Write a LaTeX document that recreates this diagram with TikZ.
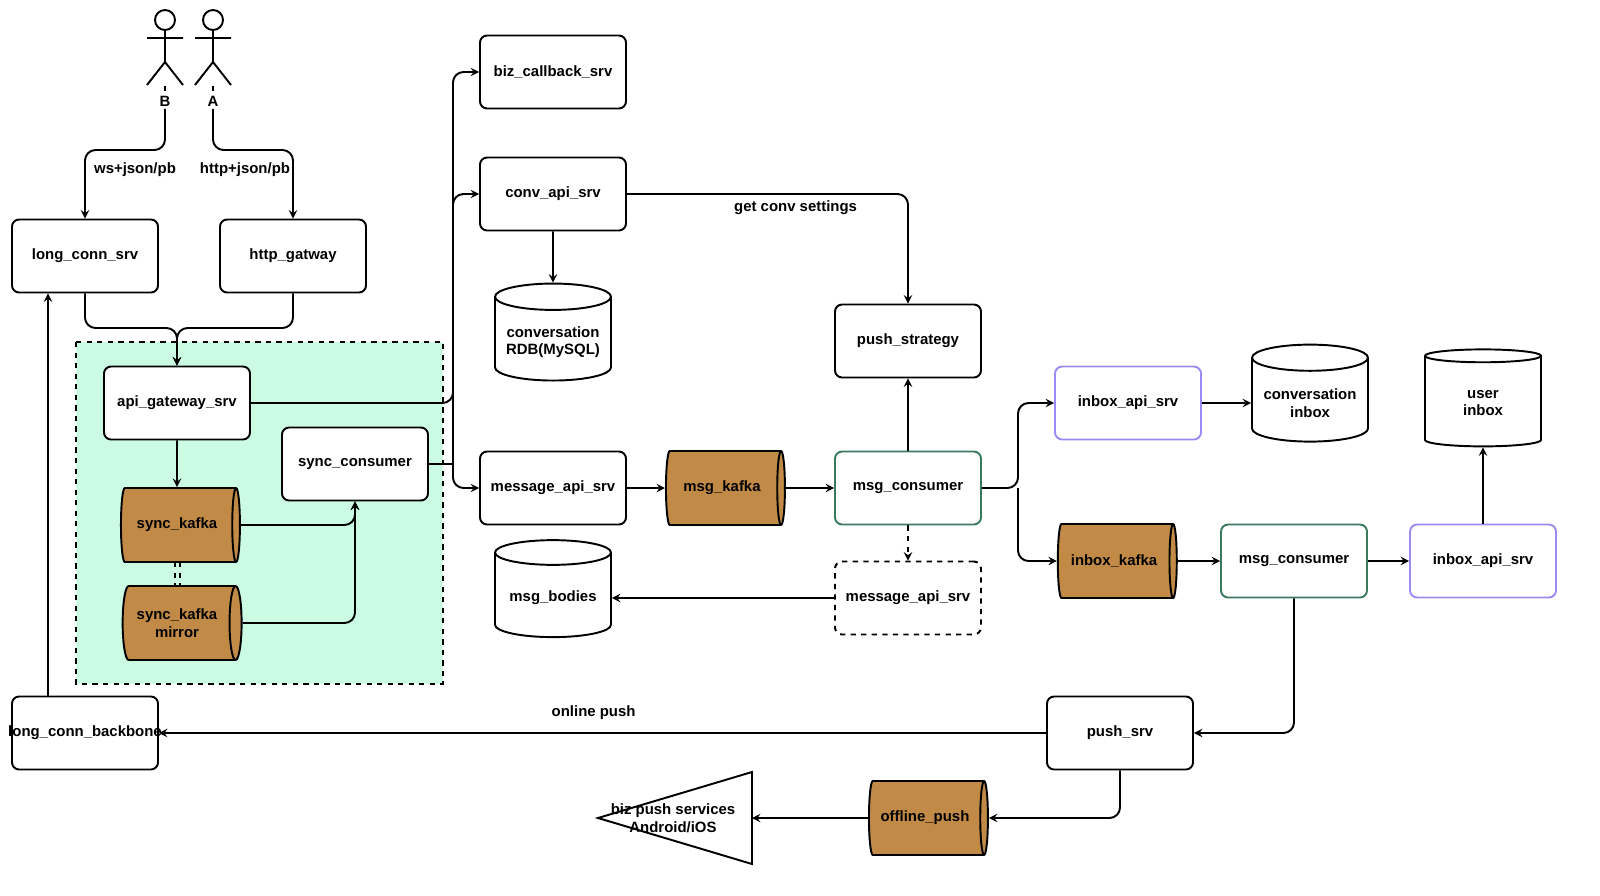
\documentclass[tikz,border=0pt]{standalone}
\usepackage{fontspec}
\setmainfont{Liberation Sans}
\usetikzlibrary{shapes}
\usetikzlibrary{arrows}
\definecolor{kafkabrown}{HTML}{C18A46}
\definecolor{mint}{HTML}{CCFBE4}
\definecolor{consgreen}{HTML}{3C7A5E}
\definecolor{inboxpurple}{HTML}{9A8CF2}
\begin{document}
\begin{tikzpicture}[x=0.02cm,y=-0.02cm,line width=1.1pt,>=stealth,
	font=\bfseries\fontsize{8.5}{10}\selectfont,
	box/.style={draw,rounded corners=4pt,minimum width=2.92cm,minimum height=1.46cm,fill=white,align=center},
	db/.style={draw,cylinder,shape border rotate=90,aspect=0.25,minimum width=2.32cm,minimum height=1.94cm,fill=white,align=center},
	kafka/.style={draw,cylinder,aspect=0.3,minimum width=1.48cm,minimum height=2.38cm,fill=kafkabrown,align=center},
	link/.style={->,rounded corners=6pt}
	]
	\useasboundingbox (0,0) rectangle (1600,896);
	% group
	\fill[mint] (76,342) rectangle (443,684);
	\draw[dashed,line width=0.6pt] (76,342) rectangle (443,684);
	% actors
	\foreach \ax/\an in {165/B,213/A}{
		\draw (\ax,20) circle (10);
		\draw (\ax,30) -- (\ax,62) (\ax-18,38) -- (\ax+18,38)
			(\ax-18,85) -- (\ax,62) -- (\ax+18,85);
		\draw[dashed,line width=0.8pt] (\ax,86) -- (\ax,94);
		\node[inner sep=1pt] (\an) at (\ax,101) {\an};
	}
	% nodes
	\node[box] (lcs) at (85,256) {long\_conn\_srv};
	\node[box] (http) at (293,256) {http\_gatway};
	\node[box] (apigw) at (177,403) {api\_gateway\_srv};
	\node[box] (synccons) at (355,464) {sync\_consumer};
	\node[kafka] (synckafka) at (177,525) {sync\_kafka};
	\node[kafka] (mirror) at (177,623) {sync\_kafka\\mirror};
	\node[box] (bizcb) at (553,72) {biz\_callback\_srv};
	\node[box] (convapi) at (553,194) {conv\_api\_srv};
	\node[db] (convdb) at (553,342) {conversation\\RDB(MySQL)};
	\node[box] (msgapi) at (553,488) {message\_api\_srv};
	\node[db] (bodies) at (553,598) {msg\_bodies};
	\node[kafka] (msgkafka) at (722,488) {msg\_kafka};
	\node[box] (strategy) at (908,341) {push\_strategy};
	\node[box,draw=consgreen] (cons) at (908,488) {msg\_consumer};
	\node[box,dashed] (msgapi2) at (908,598) {message\_api\_srv};
	\node[box,draw=inboxpurple] (inboxapi) at (1128,403) {inbox\_api\_srv};
	\node[db] (convinbox) at (1310,403) {conversation\\inbox};
	\node[kafka] (inboxkafka) at (1114,561) {inbox\_kafka};
	\node[box,draw=consgreen] (cons2) at (1294,561) {msg\_consumer};
	\node[box,draw=inboxpurple] (inboxapi2) at (1483,561) {inbox\_api\_srv};
	\node[db] (userinbox) at (1483,403) {user\\inbox};
	\node[box] (pushsrv) at (1120,733) {push\_srv};
	\node[box] (backbone) at (85,733) {};
	\node (backbonetext) at (85,733) {long\_conn\_backbone};
	\node[kafka] (offline) at (925,818) {offline\_push};
	\draw (598,818) -- (752,772) -- (752,864) -- cycle;
	\node[align=center] (bizpush) at (673,818) {biz push services\\Android/iOS};
	\coordinate (bizpushin) at (752,818);
	% connectors
	\draw[link] (B.south) |- (125,150) -| (lcs.north);
	\draw[link] (A.south) |- (253,150) -| (http.north);
	\node at (135,170) {ws+json/pb};
	\node at (245,170) {http+json/pb};
	\draw[link] (lcs.south) |- (130,328) -| (apigw.north);
	\draw[link] (http.south) |- (220,328) -| (apigw.north);
	\draw[->] (apigw) -- (synckafka);
	\draw[line width=0.6pt,dashed] (175,562) -- (175,586) (180,562) -- (180,586);
	\draw[link] (synckafka.east) -| (synccons.south);
	\draw[link] (mirror.east) -| (synccons.south);
	\coordinate (bus) at (453,403);
	\draw[link] (apigw.east) -- (bus) |- (bizcb.west);
	\draw[link] (bus) |- (convapi.west);
	\draw[link] (bus) |- (msgapi.west);
	\draw[rounded corners=6pt] (synccons.east) -- (bus |- synccons.east);
	\draw[->] (convapi) -- (convdb);
	\draw[link] (convapi.east) -| node[pos=0.3,below] {get conv settings} (strategy.north);
	\draw[->] (msgapi) -- (msgkafka);
	\draw[->] (msgkafka) -- (cons);
	\draw[->] (cons) -- (strategy);
	\draw[->,dashed] (cons) -- (msgapi2);
	\draw[->] (msgapi2) -- (bodies);
	\draw[link] (cons.east) -- (1018,488) |- (inboxapi.west);
	\draw[link] (1018,488) |- (inboxkafka.west);
	\draw[->] (inboxapi) -- (convinbox);
	\draw[->] (inboxkafka) -- (cons2);
	\draw[->] (cons2) -- (inboxapi2);
	\draw[->] (inboxapi2) -- (userinbox);
	\draw[link] (cons2.south) |- (pushsrv.east);
	\draw[->] (pushsrv) -- node[pos=0.51,above=4pt] {online push} (backbone);
	\draw[->] (backbone.north -| 48,0) -- (lcs.south -| 48,0);
	\draw[link] (pushsrv.south) |- (offline.east);
	\draw[->] (offline) -- (bizpushin);
\end{tikzpicture}
\end{document}
